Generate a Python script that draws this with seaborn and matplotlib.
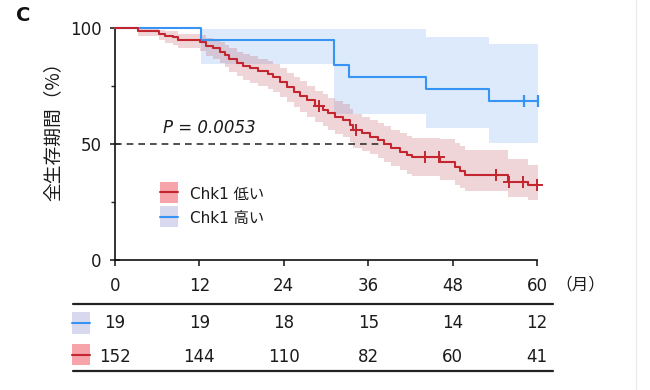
import numpy as np
import pandas as pd
import matplotlib
matplotlib.use("Agg")
import matplotlib.pyplot as plt
import seaborn as sns
from matplotlib.patches import Rectangle
from matplotlib.lines import Line2D

# ---------------- data ----------------
red_t = [0, 3.3, 6.3, 7.1, 8.3, 9.0, 12.1, 13.0, 14.0, 14.9, 15.6, 16.2, 17.3, 18.2, 19.2,
         20.4, 21.8, 22.5, 23.5, 24.4, 25.4, 26.3, 27.3, 28.4, 29.6, 30.3, 31.3, 32.4, 33.4,
         33.9, 35.1, 36.3, 37.4, 38.2, 39.3, 40.5, 41.5, 42.2, 46.2, 48.4, 49.1, 49.7, 55.9, 58.7]
red_s = [100, 98.5, 97.4, 96.6, 96.0, 94.8, 93.8, 92.4, 91.3, 89.8, 88.5, 86.8, 85.0, 83.6, 82.6,
         81.5, 80.2, 78.8, 76.8, 74.7, 72.6, 70.8, 68.8, 66.5, 64.8, 63.4, 61.8, 60.3, 58.2,
         56.0, 54.6, 53.2, 51.7, 50.0, 48.4, 46.7, 45.3, 44.3, 42.4, 40.3, 38.4, 36.6, 33.8, 32.3]
red_lo = [100, 96.5, 94.8, 93.6, 92.8, 91.2, 89.9, 88.1, 86.7, 84.8, 83.2, 81.2, 79.1, 77.5, 76.4,
          75.2, 73.8, 72.3, 70.2, 68.0, 65.8, 63.9, 61.8, 59.4, 57.6, 56.2, 54.5, 52.9, 50.7,
          48.4, 47.0, 45.5, 43.9, 42.1, 40.4, 38.6, 37.1, 36.0, 34.5, 32.5, 31.0, 29.8, 27.0, 25.8]
red_hi = [100, 100, 99.3, 98.8, 98.5, 97.6, 96.9, 95.8, 95.0, 93.8, 92.7, 91.3, 89.8, 88.6, 87.8,
          86.8, 85.7, 84.4, 82.6, 80.7, 78.8, 77.1, 75.2, 73.0, 71.4, 70.0, 68.5, 67.1, 65.1,
          63.0, 61.7, 60.5, 59.1, 57.6, 56.2, 54.8, 53.6, 52.7, 52.3, 50.5, 49.0, 47.5, 43.5, 40.8]
red_cens_t = [29.0, 34.3, 44.1, 46.0, 54.2, 56.0, 58.0, 60.0]

blue_t = [0, 12.2, 31.2, 33.2, 44.2, 53.2]
blue_s = [100, 94.7, 84.2, 78.9, 73.7, 68.4]
blue_lo = [100, 84.6, 63.0, 63.0, 57.0, 50.4]
blue_hi = [100, 99.6, 99.6, 99.6, 96.2, 93.1]
blue_cens_t = [58.2, 60.2]

follow_end = 60.2
median_low = 38.2

x_ticks = [0, 12, 24, 36, 48, 60]
y_ticks = [0, 50, 100]
risk_high = [19, 19, 18, 15, 14, 12]
risk_low = [152, 144, 110, 82, 60, 41]
group_labels = ["Chk1 低い", "Chk1 高い"]
p_text = "P = 0.0053"

# ---------------- style ----------------
sns.set_style("ticks")
plt.rcParams["font.family"] = ["DejaVu Sans", "Noto Sans CJK JP"]

RED = "#C3262E"
BLUE = "#3794F5"
RED_BAND = "#C45A64"
BLUE_BAND = "#DCEAFB"
RED_KEY = "#F6A3AA"
BLUE_KEY = "#D8D9EE"
TXT = "#1b1b1b"
CJK = ["Noto Sans CJK JP", "DejaVu Sans"]

W, H = 650, 390
fig = plt.figure(figsize=(6.5, 3.9), dpi=100)
ax = fig.add_axes([115 / W, 130 / H, 422 / W, 232 / H])


def step_at(ts, ss, t):
    i = np.searchsorted(np.asarray(ts), t, side="right") - 1
    return ss[i]


# confidence bands
bt = blue_t + [follow_end]
ax.fill_between(bt, blue_lo + [blue_lo[-1]], blue_hi + [blue_hi[-1]], step="post",
                color=BLUE_BAND, lw=0, zorder=1, clip_on=False)
rt = red_t + [follow_end]
ax.fill_between(rt, red_lo + [red_lo[-1]], red_hi + [red_hi[-1]], step="post",
                color=RED_BAND, alpha=0.25, lw=0, zorder=1.5, clip_on=False)

# survival curves
df = pd.concat([
    pd.DataFrame({"time": bt, "surv": blue_s + [blue_s[-1]], "group": group_labels[1]}),
    pd.DataFrame({"time": rt, "surv": red_s + [red_s[-1]], "group": group_labels[0]}),
])
sns.lineplot(data=df, x="time", y="surv", hue="group",
             hue_order=[group_labels[1], group_labels[0]],
             palette={group_labels[0]: RED, group_labels[1]: BLUE},
             drawstyle="steps-post", estimator=None, legend=False, ax=ax,
             lw=1.5, zorder=3, clip_on=False)

# censor marks
sns.scatterplot(x=red_cens_t, y=[step_at(red_t, red_s, t) for t in red_cens_t],
                marker="+", s=70, color=RED, linewidth=1.4, ax=ax, zorder=4, clip_on=False)
sns.scatterplot(x=blue_cens_t, y=[step_at(blue_t, blue_s, t) for t in blue_cens_t],
                marker="|", s=70, color=BLUE, linewidth=1.6, ax=ax, zorder=4, clip_on=False)

# median dashed line
ax.plot([0, median_low], [50, 50], color="#333333", lw=1.2, dashes=(4, 3), zorder=2)

ax.text(6.8, 57, p_text, fontsize=12, style="italic", color=TXT, va="center", ha="left")

# axes styling
ax.set_xlim(0, 60)
ax.set_ylim(0, 100)
ax.set_xticks(x_ticks)
ax.set_yticks(y_ticks)
ax.set_yticks([25, 75], minor=True)
ax.tick_params(axis="y", which="major", direction="inout", length=7, width=1.1,
               labelsize=12, pad=6, colors="#111", labelcolor=TXT)
ax.tick_params(axis="y", which="minor", direction="out", length=3, width=1.0)
ax.tick_params(axis="x", which="major", direction="out", length=4, width=1.1,
               labelsize=12, pad=8, colors="#111", labelcolor=TXT)
sns.despine(ax=ax)
for sp in ("left", "bottom"):
    ax.spines[sp].set_linewidth(1.2)
    ax.spines[sp].set_color("#111")
ax.set_xlabel("")
ax.set_ylabel("全生存期間（%）", fontsize=13.5, color=TXT, family=CJK)
ax.yaxis.set_label_coords(-0.122, 0.575)

ax.annotate("（月）", xy=(60, 0), xytext=(13, -18), textcoords="offset points",
            ha="left", va="center", fontsize=12, color=TXT, family=CJK,
            annotation_clip=False)

# legend (drawn as keys in axes fraction)
key_x, key_w, key_h = 0.1066, 0.0427, 0.0905
for (y0, fc, lc, lab) in [(0.2457, RED_KEY, RED, group_labels[0]),
                          (0.1422, BLUE_KEY, BLUE, group_labels[1])]:
    ax.add_patch(Rectangle((key_x, y0), key_w, key_h, transform=ax.transAxes,
                           fc=fc, ec="none", zorder=5))
    ax.plot([key_x, key_x + key_w], [y0 + key_h / 2] * 2, transform=ax.transAxes,
            color=lc, lw=1.5, zorder=6)
    ax.text(0.1777, y0 + key_h / 2 - 0.008, lab, transform=ax.transAxes, fontsize=11,
            color=TXT, va="center", ha="left")

# panel letter
fig.text(16 / W, 1 - 21 / H, "C", fontsize=14, fontweight="bold", color="#111",
         ha="left", va="baseline")

# risk table
tax = fig.add_axes([115 / W, 18 / H, 422 / W, 76 / H])
tax.set_xlim(0, 60)
tax.set_ylim(0, 1)
tax.axis("off")
for x, v in zip(x_ticks, risk_high):
    tax.text(x, 0.649, str(v), ha="center", va="center", fontsize=12, color=TXT)
for x, v in zip(x_ticks, risk_low):
    tax.text(x, 0.197, str(v), ha="center", va="center", fontsize=12, color=TXT)
for yy in (0.895, 0.017):
    tax.plot([-5.97, 62.3], [yy, yy], color="#222", lw=1.6, clip_on=False)
tax.add_patch(Rectangle((-6.1, 0.50), 2.55, 0.29, fc=BLUE_KEY, ec="none", clip_on=False))
tax.plot([-6.1, -3.55], [0.645, 0.645], color=BLUE, lw=1.5, clip_on=False)
tax.add_patch(Rectangle((-6.1, 0.092), 2.55, 0.276, fc=RED_KEY, ec="none", clip_on=False))
tax.plot([-6.1, -3.55], [0.23, 0.23], color=RED, lw=1.5, clip_on=False)

# faint scan edge on the right
fig.add_artist(Line2D([636 / W, 636 / W], [0, 1], color="#EBEBEB", lw=1.0))

fig.savefig("out.png", dpi=100)
